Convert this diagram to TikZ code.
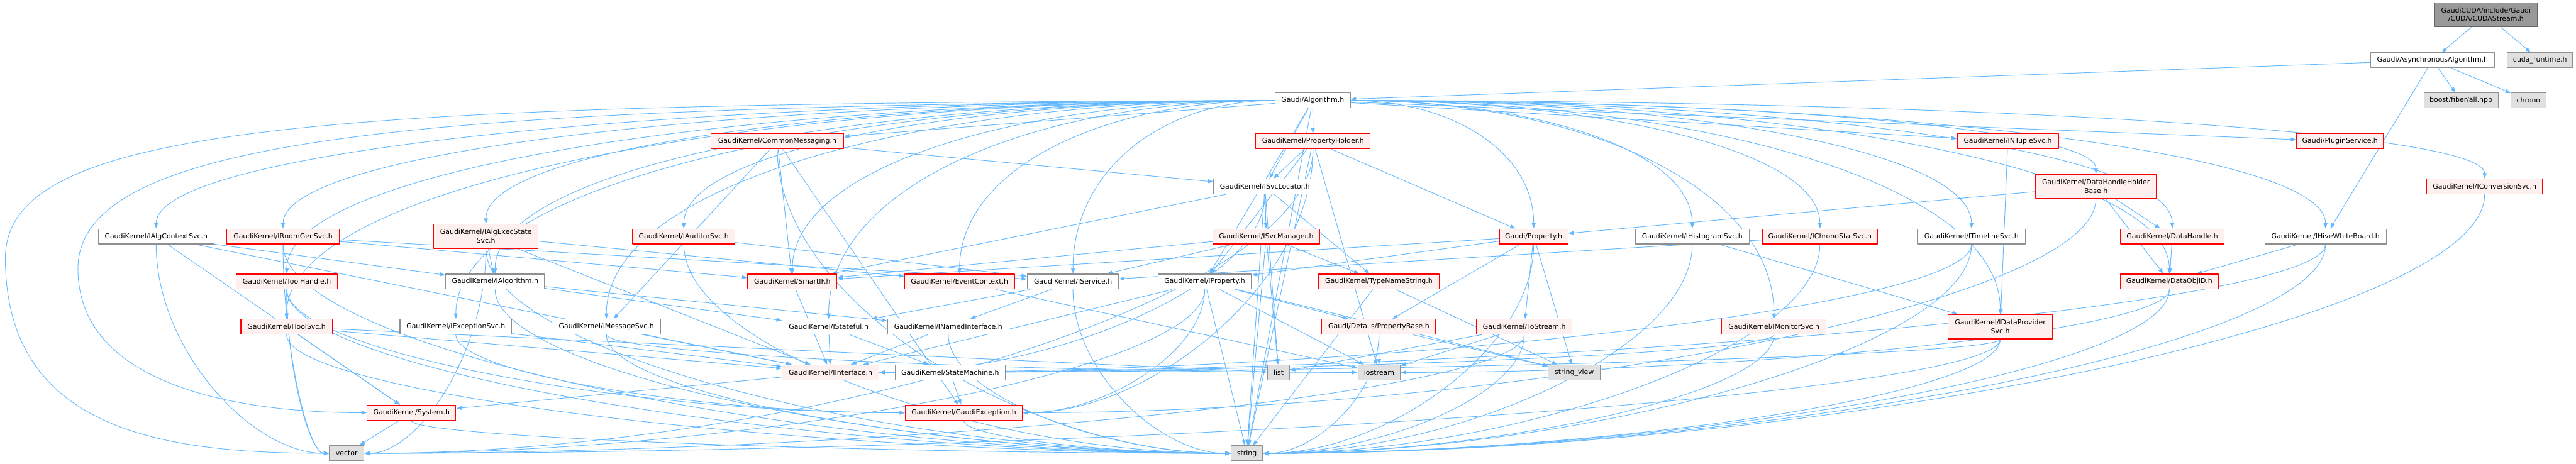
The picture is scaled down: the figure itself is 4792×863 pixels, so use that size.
\documentclass[tikz,border=0pt]{standalone}
\usepackage{fontspec}
\usepackage{tikz}
\usetikzlibrary{arrows.meta,backgrounds}
\newfontfamily\graphfont{DejaVu Sans}
\definecolor{edgeblue}{HTML}{63B8FF}
\definecolor{truncred}{HTML}{FF0000}
\definecolor{truncfill}{HTML}{FFF0F0}
\definecolor{plaingray}{HTML}{8F8F8F}
\definecolor{sysgray}{HTML}{E0E0E0}
\definecolor{rootfill}{HTML}{999999}
\definecolor{rootborder}{HTML}{666666}

\begin{document}
\begin{tikzpicture}[x=0.5pt,y=0.5pt,line cap=round,line join=round,
  box/.style={draw,line width=0.7pt,inner sep=0pt,minimum height=14pt,align=center,
    font=\graphfont\fontsize{6.4pt}{8pt}\selectfont},
  plainbox/.style={box,draw=plaingray,fill=white},
  truncbox/.style={box,draw=truncred,fill=truncfill},
  sysbox/.style={box,draw=plaingray,fill=sysgray},
  rootbox/.style={box,draw=rootborder,fill=rootfill,minimum height=22.5pt},
  tallbox/.style={minimum height=22.5pt},
  dep/.style={draw=edgeblue,line width=0.55pt,-{Triangle[length=5pt,width=3.6pt]}}]
\path[use as bounding box] (0,0) rectangle (4792,-863);

\node[rootbox,minimum width=95.5pt] (cudastream) at (4624.5,-27.5) {GaudiCUDA/include/Gaudi\\/CUDA/CUDAStream.h};
\node[plainbox,minimum width=115pt] (asyncalg) at (4525,-112) {Gaudi/AsynchronousAlgorithm.h};
\node[sysbox,minimum width=61pt] (cudart) at (4725,-112) {cuda\_runtime.h};
\node[sysbox,minimum width=69pt] (boostfiber) at (4578,-187) {boost/fiber/all.hpp};
\node[sysbox,minimum width=32.5pt] (chrono) at (4703.5,-187) {chrono};
\node[plainbox,minimum width=70pt] (algorithm) at (2442,-187) {Gaudi/Algorithm.h};
\node[truncbox,minimum width=123pt] (commonmsg) at (1446,-263) {GaudiKernel/CommonMessaging.h};
\node[truncbox,minimum width=106.5pt] (propholder) at (2442.5,-263) {GaudiKernel/PropertyHolder.h};
\node[truncbox,minimum width=94pt] (ntuplesvc) at (3735,-263) {GaudiKernel/INTupleSvc.h};
\node[truncbox,minimum width=81pt] (pluginsvc) at (4353,-263) {Gaudi/PluginService.h};
\node[plainbox,minimum width=95pt] (svclocator) at (2353,-347) {GaudiKernel/ISvcLocator.h};
\node[truncbox,tallbox,minimum width=112pt] (dhhbase) at (3899,-346.5) {GaudiKernel/DataHandleHolder\\Base.h};
\node[truncbox,minimum width=108pt] (convsvc) at (4622,-347) {GaudiKernel/IConversionSvc.h};
\node[plainbox,minimum width=107.5pt] (algctxsvc) at (290.5,-440) {GaudiKernel/IAlgContextSvc.h};
\node[truncbox,minimum width=104.5pt] (rndmgensvc) at (526.5,-440) {GaudiKernel/IRndmGenSvc.h};
\node[truncbox,tallbox,minimum width=97pt] (algexecstatesvc) at (904,-439.5) {GaudiKernel/IAlgExecState\\Svc.h};
\node[truncbox,minimum width=95pt] (auditorsvc) at (1272,-440) {GaudiKernel/IAuditorSvc.h};
\node[truncbox,minimum width=99.5pt] (svcmanager) at (2355.5,-440) {GaudiKernel/ISvcManager.h};
\node[truncbox,minimum width=64pt] (property) at (2853,-440) {Gaudi/Property.h};
\node[plainbox,minimum width=106pt] (histosvc) at (3148,-440) {GaudiKernel/IHistogramSvc.h};
\node[truncbox,minimum width=107.5pt] (chronostatsvc) at (3385.5,-440) {GaudiKernel/IChronoStatSvc.h};
\node[plainbox,minimum width=100.5pt] (timelinesvc) at (3667.5,-440) {GaudiKernel/ITimelineSvc.h};
\node[truncbox,minimum width=96pt] (datahandle) at (4041,-440) {GaudiKernel/DataHandle.h};
\node[plainbox,minimum width=113pt] (hivewb) at (4326,-440) {GaudiKernel/IHiveWhiteBoard.h};
\node[truncbox,minimum width=94.5pt] (toolhandle) at (533.5,-524) {GaudiKernel/ToolHandle.h};
\node[plainbox,minimum width=92pt] (ialgorithm) at (921,-524) {GaudiKernel/IAlgorithm.h};
\node[truncbox,minimum width=83pt] (smartif) at (1474,-524) {GaudiKernel/SmartIF.h};
\node[truncbox,minimum width=102pt] (eventctx) at (1785,-524) {GaudiKernel/EventContext.h};
\node[plainbox,minimum width=85pt] (iservice) at (1996,-524) {GaudiKernel/IService.h};
\node[plainbox,minimum width=87pt] (iproperty) at (2241,-524) {GaudiKernel/IProperty.h};
\node[truncbox,minimum width=112pt] (typename) at (2565,-524) {GaudiKernel/TypeNameString.h};
\node[truncbox,minimum width=91.5pt] (dataobjid) at (4035.5,-524) {GaudiKernel/DataObjID.h};
\node[truncbox,minimum width=85pt] (itoolsvc) at (533,-608) {GaudiKernel/IToolSvc.h};
\node[plainbox,minimum width=104pt] (exceptionsvc) at (848,-608) {GaudiKernel/IExceptionSvc.h};
\node[plainbox,minimum width=101pt] (messagesvc) at (1128,-608) {GaudiKernel/IMessageSvc.h};
\node[plainbox,minimum width=86.5pt] (istateful) at (1541.5,-608) {GaudiKernel/IStateful.h};
\node[plainbox,minimum width=113pt] (namedif) at (1764,-608) {GaudiKernel/INamedInterface.h};
\node[truncbox,minimum width=106pt] (propbase) at (2565,-608) {Gaudi/Details/PropertyBase.h};
\node[truncbox,minimum width=88.5pt] (tostream) at (2835.5,-608) {GaudiKernel/ToStream.h};
\node[truncbox,minimum width=97pt] (monitorsvc) at (3300,-608) {GaudiKernel/IMonitorSvc.h};
\node[truncbox,tallbox,minimum width=97pt] (dataprovsvc) at (3721,-608) {GaudiKernel/IDataProvider\\Svc.h};
\node[truncbox,minimum width=90pt] (iinterface) at (1545,-693) {GaudiKernel/IInterface.h};
\node[plainbox,minimum width=102.5pt] (statemachine) at (1767.5,-693) {GaudiKernel/StateMachine.h};
\node[sysbox,minimum width=20.5pt] (list) at (2378.5,-693) {list};
\node[sysbox,minimum width=39.5pt] (iostream) at (2565.5,-693) {iostream};
\node[sysbox,minimum width=48.5pt] (stringview) at (2928.5,-693) {string\_view};
\node[truncbox,minimum width=82.5pt] (system) at (765.5,-768) {GaudiKernel/System.h};
\node[truncbox,minimum width=109pt] (gaudiexc) at (1793,-768) {GaudiKernel/GaudiException.h};
\node[sysbox,minimum width=32pt] (vector) at (645,-843.5) {vector};
\node[sysbox,minimum width=29.5pt] (string) at (2319.5,-843.5) {string};

\begin{scope}[on background layer]
\draw[dep] (cudastream) -- (asyncalg);
\draw[dep] (cudastream) -- (cudart);
\draw[dep] (asyncalg) -- (algorithm);
\draw[dep] (asyncalg) -- (boostfiber);
\draw[dep] (asyncalg) -- (chrono);
\draw[dep] (asyncalg) -- (hivewb);

\draw[dep] (algorithm) -- (commonmsg);
\draw[dep] (algorithm) -- (propholder);
\draw[dep] (algorithm) -- (svclocator);
\draw[dep] (algorithm) -- (iproperty);
\draw[dep] (algorithm) -- (string);
\draw[dep] (algorithm) -- (ntuplesvc);
\draw[dep] (algorithm) -- (pluginsvc);
\draw[dep] (algorithm.west) .. controls +(-1145,0) and +(0,143) .. (algctxsvc.north);
\draw[dep] (algorithm.west) .. controls +(-1015,0) and +(0,143) .. (rndmgensvc.north);
\draw[dep] (algorithm.west) .. controls +(-807,0) and +(0,138) .. (algexecstatesvc.north);
\draw[dep] (algorithm.west) .. controls +(-605,0) and +(0,143) .. (auditorsvc.north);
\draw[dep] (algorithm.west) .. controls +(-1011,0) and +(0,194) .. (toolhandle.north);
\draw[dep] (algorithm.west) .. controls +(-798,0) and +(0,194) .. (ialgorithm.north);
\draw[dep] (algorithm.west) .. controls +(-1011,0) and +(0,244) .. (itoolsvc.north);
\draw[dep] (algorithm.west) .. controls +(-838,0) and +(0,244) .. (exceptionsvc.north);
\draw[dep] (algorithm.west) .. controls +(-684,0) and +(0,244) .. (messagesvc.north);
\draw[dep] (algorithm.west) .. controls +(-494,0) and +(0,194) .. (smartif.north);
\draw[dep] (algorithm.west) .. controls +(-457,0) and +(0,244) .. (istateful.north);
\draw[dep] (algorithm.west) .. controls +(-323,0) and +(0,194) .. (eventctx.north);
\draw[dep] (algorithm.west) .. controls +(-207,0) and +(0,194) .. (iservice.north);
\draw[dep] (algorithm.east) .. controls +(188,0) and +(0,143) .. (property.north);
\draw[dep] (algorithm.east) .. controls +(350,0) and +(0,143) .. (histosvc.north);
\draw[dep] (algorithm.east) .. controls +(480,0) and +(0,143) .. (chronostatsvc.north);
\draw[dep] (algorithm.east) .. controls +(636,0) and +(0,143) .. (timelinesvc.north);
\draw[dep] (algorithm.east) .. controls +(841,0) and +(0,143) .. (datahandle.north);
\draw[dep] (algorithm.east) .. controls +(998,0) and +(0,143) .. (hivewb.north);
\draw[dep] (algorithm.east) .. controls +(763,0) and +(0,82) .. (dhhbase.north);
\draw[dep] (algorithm.east) .. controls +(1160,0) and +(0,88) .. (convsvc.north);
\draw[dep] (algorithm.east) .. controls +(838,0) and +(0,194) .. (dataobjid.north);
\draw[dep] (algorithm.east) .. controls +(433,0) and +(0,244) .. (monitorsvc.north);
\draw[dep] (algorithm.east) .. controls +(665,0) and +(0,239) .. (dataprovsvc.north);
\draw[dep] (algorithm.west) .. controls (600,-192) and (10,-230) .. (10,-480) .. controls (10,-800) and (300,-843) .. (vector.west);
\draw[dep] (algorithm.west) .. controls (800,-197) and (145,-250) .. (145,-500) .. controls (145,-720) and (450,-768) .. (system.west);

\draw[dep] (commonmsg) -- (svclocator);
\draw[dep] (commonmsg) -- (messagesvc);
\draw[dep] (commonmsg) -- (smartif);
\draw[dep] (commonmsg) -- (gaudiexc);
\draw[dep] (commonmsg.south) .. controls +(0,-283) and +(-380,0) .. (string.west);

\draw[dep] (propholder) -- (svclocator);
\draw[dep] (propholder) -- (property);
\draw[dep] (propholder) -- (iproperty);
\draw[dep] (propholder) -- (iostream);
\draw[dep] (propholder) -- (string);
\draw[dep] (propholder.south) .. controls +(0,-245) and +(243,0) .. (gaudiexc.east);
\draw[dep] (propholder.south) .. controls +(0,-283) and +(795,0) .. (vector.east);

\draw[dep] (svclocator) -- (svcmanager);
\draw[dep] (svclocator) -- (typename);
\draw[dep] (svclocator) -- (list);
\draw[dep] (svclocator) -- (smartif);
\draw[dep] (svclocator) -- (string);
\draw[dep] (svclocator.south) .. controls +(0,-166) and +(323,0) .. (iinterface.east);

\draw[dep] (svcmanager) -- (iservice);
\draw[dep] (svcmanager) -- (smartif);
\draw[dep] (svcmanager) -- (typename);
\draw[dep] (svcmanager) -- (list);
\draw[dep] (svcmanager) -- (string);

\draw[dep] (property) -- (propbase);
\draw[dep] (property) -- (tostream);
\draw[dep] (property) -- (stringview);
\draw[dep] (property) -- (iproperty);
\draw[dep] (property) -- (smartif);
\draw[dep] (property.south) .. controls +(0,-195) and +(227,0) .. (string.east);

\draw[dep] (dhhbase) -- (property);
\draw[dep] (dhhbase) -- (datahandle);
\draw[dep] (dhhbase) -- (dataobjid);
\draw[dep] (dhhbase.south) .. controls +(0,-200) and +(899,0) .. (gaudiexc.east);
\draw[dep] (datahandle) -- (dataobjid);
\draw[dep] (hivewb) -- (dataobjid);
\draw[dep] (hivewb.south) .. controls +(0,-120) and +(1211,0) .. (iinterface.east);
\draw[dep] (hivewb.south) .. controls +(0,-195) and +(890,0) .. (string.east);
\draw[dep] (dataobjid.south) .. controls +(0,-78) and +(644,0) .. (iostream.east);
\draw[dep] (dataobjid.south) .. controls +(0,-153) and +(758,0) .. (string.east);
\draw[dep] (ntuplesvc) -- (dataprovsvc);
\draw[dep] (histosvc) -- (dataprovsvc);
\draw[dep] (histosvc.south) .. controls +(0,-195) and +(360,0) .. (string.east);
\draw[dep] (chronostatsvc) -- (iservice);
\draw[dep] (chronostatsvc.south) .. controls +(0,-195) and +(466,0) .. (string.east);
\draw[dep] (timelinesvc.south) .. controls +(0,-120) and +(914,0) .. (iinterface.east);
\draw[dep] (timelinesvc.south) .. controls +(0,-195) and +(593,0) .. (string.east);
\draw[dep] (convsvc.south) .. controls +(0,-241) and +(1023,0) .. (string.east);
\draw[dep] (monitorsvc.south) .. controls +(0,-36) and +(749,0) .. (iinterface.east);
\draw[dep] (monitorsvc.south) .. controls +(0,-111) and +(428,0) .. (string.east);
\draw[dep] (dataprovsvc.south) .. controls +(0,-31) and +(939,0) .. (iinterface.east);
\draw[dep] (dataprovsvc.south) .. controls +(0,-106) and +(617,0) .. (string.east);
\draw[dep] (dataprovsvc.south) .. controls +(0,-106) and +(1370,0) .. (vector.east);

\draw[dep] (toolhandle) -- (itoolsvc);
\draw[dep] (toolhandle.south) .. controls +(0,-115) and +(-518,0) .. (gaudiexc.west);
\draw[dep] (toolhandle.south) .. controls +(0,-153) and +(-36,0) .. (vector.west);
\draw[dep] (toolhandle.south) .. controls +(0,-153) and +(-790,0) .. (string.west);
\draw[dep] (itoolsvc) -- (system);
\draw[dep] (itoolsvc) -- (iinterface);
\draw[dep] (itoolsvc) -- (list);
\draw[dep] (itoolsvc.south) .. controls +(0,-111) and +(-790,0) .. (string.west);
\draw[dep] (algctxsvc) -- (system);
\draw[dep] (algctxsvc) -- (ialgorithm);
\draw[dep] (algctxsvc) -- (iinterface);
\draw[dep] (algctxsvc.south) .. controls +(0,-195) and +(-145,0) .. (vector.west);
\draw[dep] (rndmgensvc) -- (iservice);
\draw[dep] (rndmgensvc) -- (smartif);
\draw[dep] (rndmgensvc.south) .. controls +(0,-195) and +(-39,0) .. (vector.west);
\draw[dep] (rndmgensvc.south) .. controls +(0,-195) and +(-794,0) .. (string.west);
\draw[dep] (algexecstatesvc) -- (ialgorithm);
\draw[dep] (algexecstatesvc) -- (eventctx);
\draw[dep] (algexecstatesvc) -- (iinterface);
\draw[dep] (algexecstatesvc.south) .. controls +(0,-191) and +(-624,0) .. (string.west);
\draw[dep] (algexecstatesvc.south) .. controls +(0,-191) and +(102,0) .. (vector.east);
\draw[dep] (auditorsvc) -- (iservice);
\draw[dep] (auditorsvc.south) .. controls +(0,-195) and +(-458,0) .. (string.west);
\draw[dep] (ialgorithm) -- (namedif);
\draw[dep] (ialgorithm) -- (istateful);
\draw[dep] (ialgorithm.south) .. controls +(0,-153) and +(-616,0) .. (string.west);
\draw[dep] (exceptionsvc) -- (iinterface);
\draw[dep] (exceptionsvc.south) .. controls +(0,-73) and +(-376,0) .. (gaudiexc.west);
\draw[dep] (messagesvc) -- (iinterface);
\draw[dep] (messagesvc.south) .. controls +(0,-36) and +(-629,0) .. (iostream.west);
\draw[dep] (messagesvc.south) .. controls +(0,-111) and +(-523,0) .. (string.west);
\draw[dep] (smartif) -- (iinterface);
\draw[dep] (eventctx) -- (iostream);
\draw[dep] (iservice) -- (istateful);
\draw[dep] (iservice) -- (namedif);
\draw[dep] (iservice.south) .. controls +(0,-153) and +(-132,0) .. (string.west);
\draw[dep] (iproperty) -- (iinterface);
\draw[dep] (iproperty) -- (propbase);
\draw[dep] (iproperty) -- (iostream);
\draw[dep] (iproperty) -- (stringview);
\draw[dep] (iproperty) -- (string);
\draw[dep] (iproperty.south) .. controls +(0,-115) and +(153,0) .. (gaudiexc.east);
\draw[dep] (iproperty.south) .. controls +(0,-153) and +(704,0) .. (vector.east);
\draw[dep] (istateful) -- (iinterface);
\draw[dep] (istateful) -- (statemachine);
\draw[dep] (namedif) -- (iinterface);
\draw[dep] (namedif.south) .. controls +(0,-111) and +(-237,0) .. (string.west);
\draw[dep] (statemachine) -- (gaudiexc);
\draw[dep] (iinterface) -- (system);
\draw[dep] (system) -- (vector);
\draw[dep] (system.south) .. controls +(0,-31) and +(-686,0) .. (string.west);
\draw[dep] (gaudiexc.south) .. controls +(0,-31) and +(-224,0) .. (string.west);
\draw[dep] (typename) -- (stringview);
\draw[dep] (typename) -- (string);
\draw[dep] (propbase) -- (iostream);
\draw[dep] (propbase) -- (stringview);
\draw[dep] (propbase.south) .. controls +(0,-111) and +(97,0) .. (string.east);
\draw[dep] (tostream) -- (list);
\draw[dep] (tostream) -- (iostream);
\draw[dep] (tostream.south) .. controls +(0,-111) and +(219,0) .. (string.east);
\draw[dep] (tostream.south) .. controls +(0,-111) and +(971,0) .. (vector.east);
\end{scope}
\end{tikzpicture}
\end{document}
